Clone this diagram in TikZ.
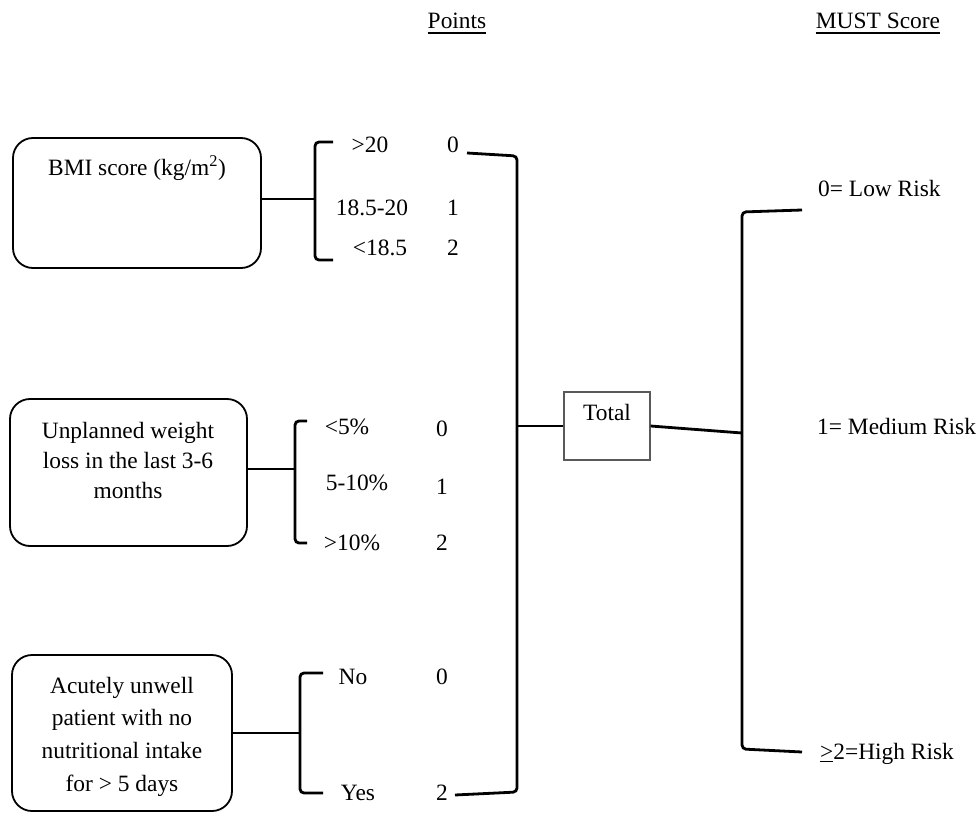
\documentclass[tikz,border=0pt]{standalone}
\usepackage{fontspec}
\setmainfont{Liberation Serif}
\begin{document}
\begin{tikzpicture}[x=1pt,y=-1pt,
  txt/.style={font=\fontsize{23.4}{30}\selectfont, inner sep=0pt, text height=15.8pt, text depth=0pt},
  mtxt/.style={font=\fontsize{23.4}{30}\selectfont, inner sep=0pt, align=center},
  rtxt/.style={txt, anchor=west},
  rbox/.style={draw, line width=1.8pt, rounded corners=20pt, inner sep=0pt},
  tbox/.style={draw=black!65, line width=1.2pt, inner sep=0pt},
  brk/.style={line width=2.8pt, rounded corners=4pt},
  conn/.style={line width=2.8pt},
  uline/.style={line width=1.5pt}
]
\useasboundingbox (0,0) rectangle (979,813);

% headers
\node[txt] (pts) at (457,21) {Points};
\node[txt] (must) at (878,21) {MUST Score};
\draw[uline] ([yshift=-4pt]pts.south west) -- ([yshift=-4pt]pts.south east);
\draw[uline] ([yshift=-4pt]must.south west) -- ([yshift=-4pt]must.south east);

% left boxes
\node[rbox, minimum width=248pt, minimum height=130pt] (bmi) at (137,203) {};
\node[txt] (bmitxt) at (137,168) {BMI score (kg/m\textsuperscript{2})};
\node[rbox, minimum width=237pt, minimum height=147pt] (wt) at (128.5,472.5) {};
\node[mtxt] (wttxt) at (128,460) {Unplanned weight\\loss in the last 3-6\\months};
\node[rbox, minimum width=220pt, minimum height=156pt] (ac) at (122,733) {};
\node[mtxt, font=\fontsize{23.4}{32.7}\selectfont] (actxt) at (122,736.5) {Acutely unwell\\patient with no\\nutritional intake\\for > 5 days};

% BMI bracket
\coordinate (b1t) at (333,142);
\coordinate (b1m) at (315,199);
\coordinate (b1b) at (333,260);
\draw[brk] (b1t) -- (b1t -| b1m) -- (b1b -| b1m) -- (b1b);
\draw[conn] (b1m -| bmi.east) -- (b1m);
\node[txt] (o1a) at (370,145) {>20};
\node[txt] (p1a) at (453,145) {0};
\node[txt] (o1b) at (372,208) {18.5-20};
\node[txt] (p1b) at (453,208) {1};
\node[txt] (o1c) at (380,248) {<18.5};
\node[txt] (p1c) at (453,248) {2};

% weight bracket
\coordinate (b2t) at (307,421);
\coordinate (b2m) at (295,469);
\coordinate (b2b) at (307,543);
\draw[brk] (b2t) -- (b2t -| b2m) -- (b2b -| b2m) -- (b2b);
\draw[conn] (b2m -| wt.east) -- (b2m);
\node[txt] (o2a) at (347,427) {<5\%};
\node[txt] (p2a) at (442,429) {0};
\node[txt] (o2b) at (357,483) {5-10\%};
\node[txt] (p2b) at (442,487) {1};
\node[txt] (o2c) at (352,543) {>10\%};
\node[txt] (p2c) at (442,543) {2};

% acute bracket
\coordinate (b3t) at (323,673);
\coordinate (b3m) at (300,733);
\coordinate (b3b) at (323,793);
\draw[brk] (b3t) -- (b3t -| b3m) -- (b3b -| b3m) -- (b3b);
\draw[conn] (b3m -| ac.east) -- (b3m);
\node[txt] (o3a) at (353,677) {No};
\node[txt] (p3a) at (442,677) {0};
\node[txt] (o3b) at (358,793) {Yes};
\node[txt] (p3b) at (442,793) {2};

% big bracket to total
\coordinate (bt) at (467,153);
\coordinate (bb) at (455,795);
\coordinate (bm) at (517,426);
\draw[brk] (bt) -- (bm |- 0,156) -- (bm |- 0,792) -- (bb);
\node[tbox, minimum width=86pt, minimum height=68pt] (total) at (607,426) {};
\node[txt] (totaltxt) at (607,413) {Total};
\draw[conn] (bm) -- (total.west);

% right bracket
\coordinate (rt) at (802,210);
\coordinate (rm) at (742,433);
\coordinate (rb) at (802,752);
\draw[brk] (rt) -- (rm |- 0,212) -- (rm |- 0,749) -- (rb);
\draw[conn] (total.east) -- (rm);
\node[rtxt] (low) at (818,189) {0= Low Risk};
\node[rtxt] (med) at (817,427) {1= Medium Risk};
\node[rtxt] (high) at (820,752) {\underline{>}2=High Risk};
\end{tikzpicture}
\end{document}
